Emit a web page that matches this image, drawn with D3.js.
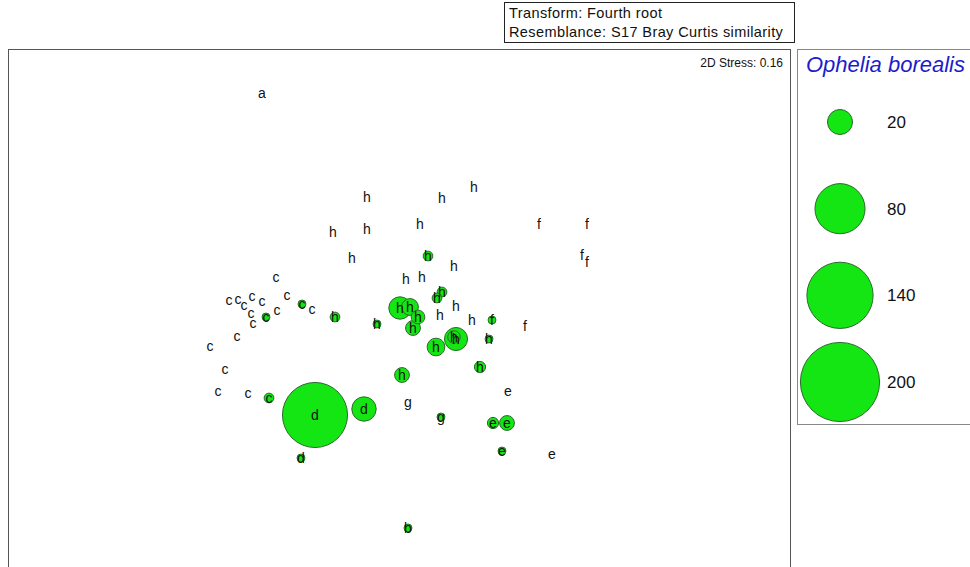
<!DOCTYPE html>
<html><head><meta charset="utf-8">
<script src="https://cdn.jsdelivr.net/npm/d3@7"></script>
<style>
body{margin:0;background:#fff;}
svg{display:block;font-family:"Liberation Sans",Arial,sans-serif;}
</style></head>
<body>
<svg id="chart" width="970" height="567"></svg>
<script>
// MDS sample labels (group factor)
const labels = ["a","h","h","h","h","h","h","f","f","f","f","h","h","h","h","h","h","h","h","h","h","h","h","h","h","f","f","h","h","h","h","h","h","h","h",
"c","c","c","c","c","c","c","c","c","c","c","c","c","c","c","c","c","c","c","d","d","g","g","e","e","e","d","e","e","b"];
// MDS axis 1
const mdsX = [-0.69,-0.165,0.21,0.37,-0.335,-0.165,0.1,0.695,0.935,0.91,0.935,-0.24,0.14,0.27,0.03,0.11,0.21,0.185,0.28,0,0.05,0.09,0.065,0.2,0.36,0.46,0.625,0.28,0.27,0.18,0.445,0.4,0.01,-0.115,-0.325,
-0.62,-0.565,-0.49,-0.44,-0.855,-0.81,-0.78,-0.74,-0.69,-0.745,-0.735,-0.67,-0.615,-0.815,-0.95,-0.875,-0.91,-0.76,-0.655,-0.425,-0.18,0.04,0.205,0.54,0.465,0.535,-0.495,0.51,0.76,0.04];
// MDS axis 2
const mdsY = [1.035,0.515,0.51,0.565,0.34,0.355,0.38,0.38,0.38,0.225,0.19,0.21,0.22,0.17,0.105,0.115,0.04,0.01,-0.03,-0.04,-0.035,-0.085,-0.14,-0.075,-0.1,-0.1,-0.13,-0.195,-0.185,-0.235,-0.195,-0.335,-0.375,-0.12,-0.085,
0.115,0.025,-0.02,-0.045,0,0.005,-0.025,0.02,-0.005,-0.065,-0.115,-0.085,-0.05,-0.18,-0.23,-0.345,-0.455,-0.465,-0.49,-0.575,-0.545,-0.51,-0.585,-0.455,-0.615,-0.615,-0.79,-0.755,-0.77,-1.14];
// Ophelia borealis abundance
const abundance = [0,0,0,0,0,0,0,0,0,0,0,0,3,0,0,0,3,3,0,16,9,6,7,0,0,2,0,17,5,10,2,4,7,2,3,
0,0,2,0,0,0,0,0,0,0,0,2,0,0,0,0,0,0,3,135,19,0,2,0,4,7,2,2,0,2];
const legendValues = [20,80,140,200];
const headerLines = ["Transform: Fourth root","Resemblance: S17 Bray Curtis similarity"];
const stressText = "2D Stress: 0.16";
const speciesName = "Ophelia borealis";

const svg = d3.select("#chart");
const x = d3.scaleLinear().domain([-2,2]).range([0,800]);
const y = d3.scaleLinear().domain([-1.5,1.5]).range([600,0]);
const r = d3.scaleSqrt().domain([0,200]).range([0,39.6]);

const fill = "#14e614", stroke = "#2b6b2b";

// header box
svg.append("rect").attr("x",504.5).attr("y",2.5).attr("width",290).attr("height",40)
  .attr("fill","#fff").attr("stroke","#222").attr("stroke-width",1);
svg.selectAll("text.hdr").data(headerLines).join("text").attr("class","hdr")
  .attr("x",509).attr("y",(d,i)=>18+i*19).attr("font-size",14.5).attr("letter-spacing",0.4)
  .attr("fill","#111").text(d=>d);

// plot frame
svg.append("rect").attr("x",8.5).attr("y",49.5).attr("width",782).attr("height",540)
  .attr("fill","#fff").attr("stroke","#555").attr("stroke-width",1);
svg.append("text").attr("x",783).attr("y",67).attr("text-anchor","end")
  .attr("font-size",12).attr("fill","#111").text(stressText);

const pts = labels.map((l,i)=>({l, x:mdsX[i], y:mdsY[i], v:abundance[i]}));
svg.append("g").selectAll("circle").data(pts.filter(d=>d.v>0).sort((a,b)=>b.v-a.v)).join("circle")
  .attr("cx",d=>x(d.x)).attr("cy",d=>y(d.y)).attr("r",d=>r(d.v))
  .attr("fill",fill).attr("stroke",stroke).attr("stroke-width",1);
svg.append("g").selectAll("text").data(pts).join("text")
  .attr("x",d=>x(d.x)).attr("y",d=>y(d.y)).attr("text-anchor","middle")
  .attr("dy","0.35em").attr("font-size",14).attr("fill","#111").text(d=>d.l);

// legend
svg.append("rect").attr("x",797.5).attr("y",49.5).attr("width",180).attr("height",375)
  .attr("fill","#fff").attr("stroke","#888").attr("stroke-width",1);
svg.append("text").attr("x",806).attr("y",72).attr("font-size",22).attr("font-style","italic")
  .attr("fill","#1c1ccc").text(speciesName);
const ly = d3.scalePoint().domain(legendValues).range([122,382]);
const lg = svg.append("g").selectAll("g").data(legendValues).join("g");
lg.append("circle").attr("cx",840).attr("cy",d=>ly(d)).attr("r",d=>r(d))
  .attr("fill",fill).attr("stroke",stroke).attr("stroke-width",1);
lg.append("text").attr("x",887).attr("y",d=>ly(d)).attr("dy","0.36em")
  .attr("font-size",17).attr("fill","#111").text(d=>d);
</script>
</body></html>
